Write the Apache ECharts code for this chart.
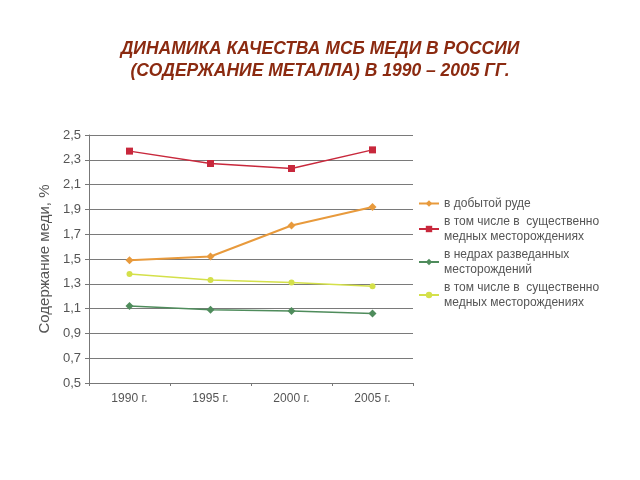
<!DOCTYPE html>
<html><head><meta charset="utf-8">
<script src="https://cdn.jsdelivr.net/npm/echarts@6/dist/echarts.min.js"></script>
<style>html,body{margin:0;padding:0;background:#fff}#c{width:640px;height:480px}</style>
</head><body><div id="c"></div>
<script>
const categories = ['1990 г.', '1995 г.', '2000 г.', '2005 г.'];
const seriesNames = ['в добытой руде', 'в том числе в  существенно\nмедных месторождениях', 'в недрах разведанных\nместорождений', 'в том числе в  существенно\nмедных месторождениях '];
const oreMined = [1.49, 1.52, 1.77, 1.92];
const oreMinedCopper = [2.37, 2.27, 2.23, 2.38];
const reserves = [1.12, 1.09, 1.08, 1.06];
const reservesCopper = [1.38, 1.33, 1.31, 1.28];
const yTicks = [0.5, 2.5, 0.2];

const colors = ['#E89A3C', '#C8283C', '#4F8C5C', '#D4E04A'];
const symbols = ['diamond', 'rect', 'diamond', 'circle'];
const sizes = [8, 7, 8, 6];
const values = [oreMined, oreMinedCopper, reserves, reservesCopper];

const chart = echarts.init(document.getElementById('c'));
chart.setOption({
  animation: false,
  title: {
    text: 'ДИНАМИКА КАЧЕСТВА МСБ МЕДИ В РОССИИ\n(СОДЕРЖАНИЕ МЕТАЛЛА) В 1990 – 2005 ГГ.',
    left: 'center', top: 33,
    textStyle: { color: '#8B2A10', fontSize: 17.5, fontWeight: 'bold', fontStyle: 'italic', fontFamily: 'Liberation Sans', lineHeight: 22 }
  },
  grid: { left: 89, right: 227, top: 135, bottom: 97, containLabel: false },
  legend: {
    orient: 'vertical', left: 413, top: 191, itemGap: 3,
    itemWidth: 20, itemHeight: 8,
    textStyle: { color: '#555', fontSize: 12, fontFamily: 'Liberation Sans', lineHeight: 15 },
    data: seriesNames
  },
  xAxis: {
    type: 'category', data: categories, boundaryGap: true,
    axisLine: { lineStyle: { color: '#777' } },
    axisTick: { show: true, alignWithLabel: false, length: 3, lineStyle: { color: '#777' } },
    axisLabel: { color: '#555', fontSize: 12, fontFamily: 'Liberation Sans', margin: 10 }
  },
  yAxis: {
    type: 'value', min: yTicks[0], max: yTicks[1], interval: yTicks[2],
    name: 'Содержание меди, %', nameLocation: 'middle', nameGap: 37, nameRotate: 90,
    nameTextStyle: { color: '#555', fontSize: 15, fontFamily: 'Liberation Sans' },
    axisLine: { show: true, lineStyle: { color: '#777' } },
    axisTick: { show: true, length: 4, lineStyle: { color: '#777' } },
    axisLabel: { color: '#555', fontSize: 13, fontFamily: 'Liberation Sans', margin: 8,
      formatter: v => v.toFixed(1).replace('.', ',') },
    splitLine: { lineStyle: { color: '#7a7a7a', width: 1 } }
  },
  series: values.map((d, i) => ({
    name: seriesNames[i], type: 'line', data: d,
    symbol: symbols[i], symbolSize: sizes[i], showSymbol: true,
    itemStyle: { color: colors[i] },
    lineStyle: { color: colors[i], width: i === 0 ? 2 : 1.5 }
  }))
});
</script></body></html>
